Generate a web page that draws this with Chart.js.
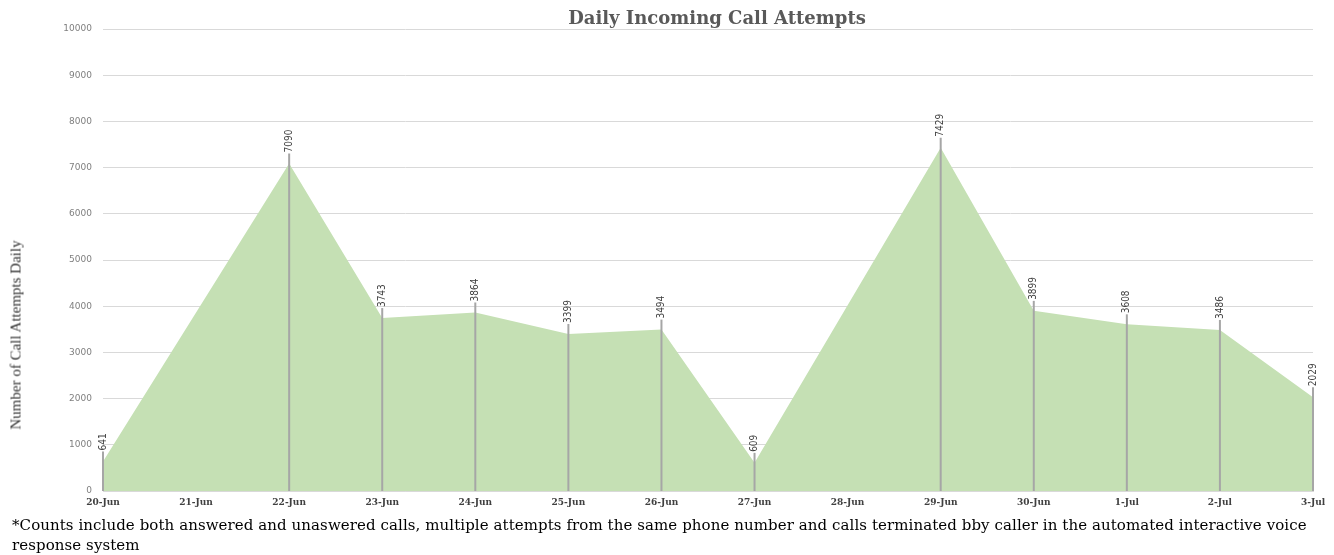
<!DOCTYPE html>
<html>
<head>
<meta charset="utf-8">
<script src="https://cdn.jsdelivr.net/npm/chart.js@4"></script>
<style>
  html, body { margin: 0; padding: 0; background: #fff; }
  #wrap { position: relative; width: 1334px; height: 555px; }
  #title {
    position: absolute; left: 717px; top: 17px;
    transform: translate(-50%, -50%);
    font-family: "DejaVu Serif", serif; font-size: 18px; font-weight: bold; color: #595959;
    white-space: nowrap;
  }
  #yTitle {
    position: absolute; left: 16px; top: 335px;
    transform: translate(-50%, -50%) rotate(-90deg);
    font-family: "Liberation Serif", serif; font-size: 15px; color: #333;
    white-space: nowrap;
  }
  #note {
    position: absolute; left: 12px; top: 515px;
    font-family: "DejaVu Serif", serif; font-size: 15px; line-height: 20px; color: #000;
    letter-spacing: 0.08px;
    white-space: nowrap;
  }
</style>
</head>
<body>
<div id="wrap">
  <canvas id="chart" width="1334" height="555"></canvas>
  <div id="title">Daily Incoming Call Attempts</div>
  <div id="yTitle">Number of Call Attempts Daily</div>
  <div id="note">*Counts include both answered and unaswered calls, multiple attempts from the same phone number and calls terminated bby caller in the automated interactive voice<br>response system</div>
</div>
<script>
// données
const categories = ['20-Jun', '21-Jun', '22-Jun', '23-Jun', '24-Jun', '25-Jun', '26-Jun',
                    '27-Jun', '28-Jun', '29-Jun', '30-Jun', '1-Jul', '2-Jul', '3-Jul'];
const callAttempts = [641, null, 7090, 3743, 3864, 3399, 3494, 609, null, 7429, 3899, 3608, 3486, 2029];
const yTickValues = [0, 1000, 2000, 3000, 4000, 5000, 6000, 7000, 8000, 9000, 10000];

const labelGap = 10;

// lignes de rappel + étiquettes verticales
const leaderPlugin = {
    id: 'leaders',
    afterDatasetsDraw(chart) {
        const ctx = chart.ctx;
        const meta = chart.getDatasetMeta(0);
        const base = chart.scales.y.getPixelForValue(0);
        ctx.save();
        meta.data.forEach((pt, i) => {
            const v = callAttempts[i];
            if (v === null) return;
            const top = pt.y - labelGap;
            ctx.strokeStyle = '#a6a6a6';
            ctx.lineWidth = 2;
            ctx.beginPath();
            ctx.moveTo(pt.x, base);
            ctx.lineTo(pt.x, top);
            ctx.stroke();
            ctx.save();
            ctx.translate(pt.x, top - 1);
            ctx.rotate(-Math.PI / 2);
            ctx.fillStyle = '#404040';
            ctx.font = '10px "Liberation Sans Narrow", "DejaVu Sans Condensed", sans-serif';
            ctx.textAlign = 'left';
            ctx.textBaseline = 'middle';
            ctx.fillText(String(v), 0, 0);
            ctx.restore();
        });
        ctx.restore();
    }
};

const ctx = document.getElementById('chart').getContext('2d');
const chart = new Chart(ctx, {
    type: 'line',
    data: {
        labels: categories,
        datasets: [{
            data: callAttempts,
            fill: 'origin',
            backgroundColor: '#c5e0b4',
            borderWidth: 0,
            borderColor: 'rgba(0,0,0,0)',
            pointRadius: 0,
            tension: 0,
            spanGaps: true
        }]
    },
    options: {
        responsive: false,
        animation: false,
        layout: { padding: { left: 0, right: 21, top: 29, bottom: 0 } },
        plugins: {
            legend: { display: false },
            tooltip: { enabled: false },
            title: { display: false }
        },
        scales: {
            x: {
                offset: false,
                grid: { display: false, drawTicks: false },
                border: { display: true, color: '#d9d9d9' },
                ticks: {
                    color: '#404040',
                    font: { family: '"DejaVu Serif", serif', size: 9, weight: 'bold' },
                    padding: 6,
                    maxRotation: 0,
                    autoSkip: false
                },
                afterFit(s) { s.height = 64; }
            },
            y: {
                min: 0,
                max: 10000,
                afterBuildTicks(s) { s.ticks = yTickValues.map(v => ({ value: v })); },
                grid: { color: '#d9d9d9', drawTicks: false },
                border: { display: false },
                ticks: {
                    color: '#7f7f7f',
                    font: { family: '"DejaVu Sans", sans-serif', size: 9 },
                    padding: 11,
                    callback: v => String(v)
                },
                afterFit(s) { s.width = 103; }
            }
        }
    },
    plugins: [leaderPlugin]
});
</script>
</body>
</html>
